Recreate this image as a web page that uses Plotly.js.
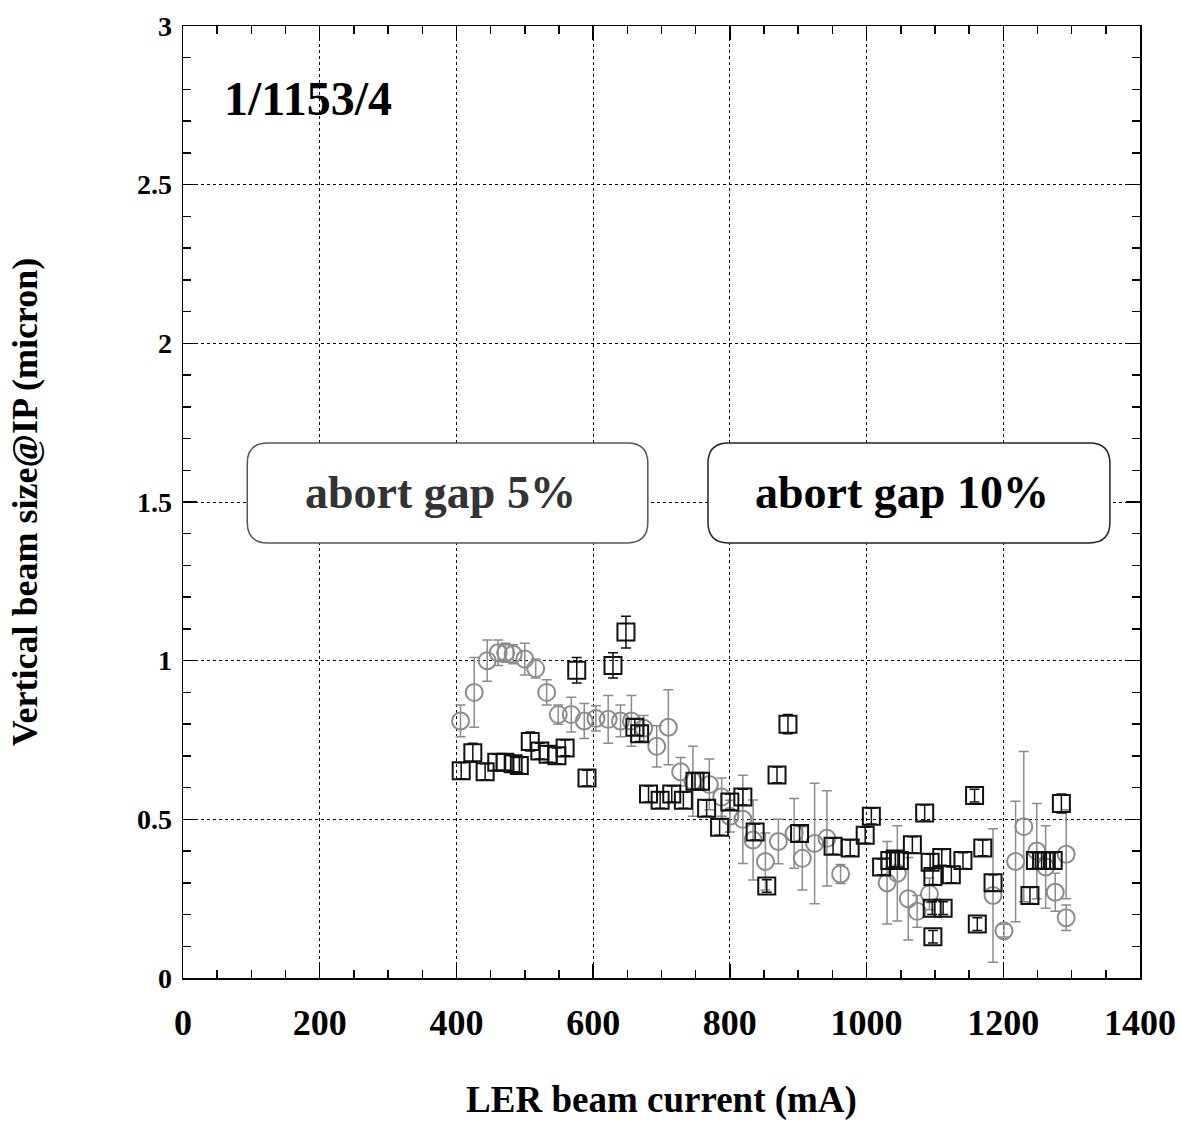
<!DOCTYPE html>
<html>
<head>
<meta charset="utf-8">
<script src="https://cdn.plot.ly/plotly-3.0.1.min.js"></script>
<style>html,body{margin:0;padding:0;background:#fff;}#chart{width:1180px;height:1123px;}</style>
</head>
<body>
<div id="chart"></div>
<script>
// Abort gap 5% (grey circles)
const gap5Current = [406,426,445,461,472,483,500,516,532,549,568,587,604,622,640,656,674,693,710,728,746,770,788,800,819,834,852,871,894,906,924,942,962,1030,1045,1061,1074,1092,1185,1201,1218,1230,1249,1262,1276,1292,1292];
const gap5Size    = [0.81,0.90,1.00,1.025,1.025,1.02,1.005,0.975,0.90,0.83,0.83,0.81,0.818,0.815,0.81,0.81,0.787,0.73,0.79,0.65,0.62,0.61,0.57,0.51,0.50,0.435,0.367,0.43,0.456,0.377,0.424,0.44,0.328,0.30,0.33,0.25,0.21,0.265,0.26,0.149,0.367,0.477,0.40,0.35,0.27,0.39,0.19];
const gap5Err     = [0.05,0.11,0.065,0.04,0.03,0.03,0.05,0.03,0.04,0.03,0.055,0.055,0.04,0.075,0.05,0.08,0.04,0.065,0.118,0.045,0.11,0.08,0.06,0.05,0.139,0.126,0.09,0.07,0.11,0.10,0.19,0.15,0.03,0.13,0.15,0.13,0.05,0.05,0.21,0.02,0.19,0.237,0.15,0.13,0.06,0.14,0.04];

// Abort gap 10% (black squares)
const gap10Current = [407,424,442,459,471,483,492,508,522,534,547,559,576,591,629,648,661,668,681,698,715,732,749,757,766,785,800,819,837,854,869,885,902,951,976,998,1007,1022,1034,1042,1048,1067,1085,1093,1097,1097,1110,1096,1112,1124,1141,1158,1162,1170,1185,1239,1247,1256,1263,1273,1285];
const gap10Size    = [0.653,0.71,0.65,0.68,0.68,0.675,0.67,0.745,0.715,0.705,0.70,0.725,0.97,0.63,0.985,1.09,0.79,0.77,0.58,0.56,0.58,0.56,0.62,0.62,0.535,0.475,0.555,0.57,0.46,0.29,0.64,0.80,0.455,0.415,0.41,0.45,0.51,0.35,0.37,0.375,0.37,0.42,0.52,0.365,0.32,0.13,0.38,0.22,0.22,0.325,0.37,0.575,0.17,0.41,0.30,0.26,0.37,0.37,0.37,0.37,0.55];
const gap10Err     = [0.025,0.03,0.025,0.025,0.025,0.025,0.025,0.03,0.025,0.025,0.025,0.025,0.04,0.025,0.04,0.05,0.025,0.025,0.025,0.025,0.025,0.025,0.025,0.025,0.025,0.025,0.025,0.025,0.025,0.02,0.025,0.03,0.025,0.025,0.025,0.025,0.025,0.025,0.025,0.025,0.025,0.025,0.025,0.025,0.025,0.02,0.025,0.02,0.02,0.025,0.025,0.02,0.02,0.025,0.025,0.025,0.025,0.025,0.025,0.025,0.03];

const xTickVals = [0,200,400,600,800,1000,1200,1400];
const yTickVals = [0,0.5,1,1.5,2,2.5,3];
const yTickText = ['0','0.5','1','1.5','2','2.5','3'];

const FONT = 'Liberation Serif, Times New Roman, serif';

const traces = [
  {
    x: gap5Current, y: gap5Size, type: 'scatter', mode: 'markers', name: 'abort gap 5%',
    marker: {symbol: 'circle-open', size: 17, color: '#8c8c8c', line: {width: 2, color: '#8c8c8c'}},
    error_y: {type: 'data', array: gap5Err, visible: true, color: '#8c8c8c', thickness: 1.5, width: 5}
  },
  {
    x: gap10Current, y: gap10Size, type: 'scatter', mode: 'markers', name: 'abort gap 10%',
    marker: {symbol: 'square-open', size: 17, color: '#111', line: {width: 2, color: '#111'}},
    error_y: {type: 'data', array: gap10Err, visible: true, color: '#111', thickness: 1.5, width: 5}
  }
];

function roundBox(x0, x1, y0, y1, rx, ry) {
  return `M${x0+rx},${y0} L${x1-rx},${y0} Q${x1},${y0} ${x1},${y0+ry} L${x1},${y1-ry} Q${x1},${y1} ${x1-rx},${y1} L${x0+rx},${y1} Q${x0},${y1} ${x0},${y1-ry} L${x0},${y0+ry} Q${x0},${y0} ${x0+rx},${y0} Z`;
}

const layout = {
  width: 1180, height: 1123,
  margin: {l: 183, r: 40, t: 26, b: 145},
  paper_bgcolor: '#fff', plot_bgcolor: '#fff',
  showlegend: false,
  font: {family: FONT, color: '#000'},
  xaxis: {
    range: [0, 1400], tickvals: xTickVals, ticks: 'inside', ticklen: 14, tickwidth: 1.5, tickcolor: '#000',
    showline: true, linecolor: '#000', linewidth: 1.5, mirror: 'ticks',
    showgrid: true, gridcolor: '#000', griddash: 'dot', gridwidth: 1,
    zeroline: false,
    minor: {dtick: 50, ticks: 'inside', ticklen: 8, tickcolor: '#000', showgrid: false},
    tickfont: {family: FONT, size: 36, color: '#000', weight: 'bold'},
    ticklabelstandoff: 12,
    title: {text: '<b>LER beam current (mA)</b>', font: {family: FONT, size: 37, color: '#000'}, standoff: 44}
  },
  yaxis: {
    range: [0, 3], tickvals: yTickVals, ticktext: yTickText, ticks: 'inside', ticklen: 14, tickwidth: 1.5, tickcolor: '#000',
    showline: true, linecolor: '#000', linewidth: 1.5, mirror: 'ticks',
    showgrid: true, gridcolor: '#000', griddash: 'dot', gridwidth: 1,
    zeroline: false,
    minor: {dtick: 0.1, ticks: 'inside', ticklen: 8, tickcolor: '#000', showgrid: false},
    tickfont: {family: FONT, size: 28, color: '#000', weight: 'bold'},
    ticklabelstandoff: 4,
    title: {text: '<b>Vertical beam size@IP (micron)</b>', font: {family: FONT, size: 36, color: '#000'}, standoff: 88}
  },
  shapes: [
    {type: 'path', xref: 'x', yref: 'y', layer: 'above', path: roundBox(94, 680, 1.371, 1.686, 30, 0.065), fillcolor: '#fff', line: {color: '#555', width: 1.5}},
    {type: 'path', xref: 'x', yref: 'y', layer: 'above', path: roundBox(768, 1356, 1.371, 1.686, 30, 0.065), fillcolor: '#fff', line: {color: '#222', width: 1.5}}
  ],
  annotations: [
    {x: 57, y: 2.77, xref: 'x', yref: 'y', xanchor: 'left', yanchor: 'middle', showarrow: false,
     text: '<b>1/1153/4</b>', font: {family: FONT, size: 48, color: '#000'}},
    {x: 376, y: 1.53, xref: 'x', yref: 'y', xanchor: 'center', yanchor: 'middle', showarrow: false,
     text: '<b>abort gap 5%</b>', font: {family: FONT, size: 46, color: '#333'}},
    {x: 1052, y: 1.53, xref: 'x', yref: 'y', xanchor: 'center', yanchor: 'middle', showarrow: false,
     text: '<b>abort gap 10%</b>', font: {family: FONT, size: 46, color: '#000'}}
  ]
};

Plotly.newPlot('chart', traces, layout, {displayModeBar: false, staticPlot: true});
</script>
</body>
</html>
